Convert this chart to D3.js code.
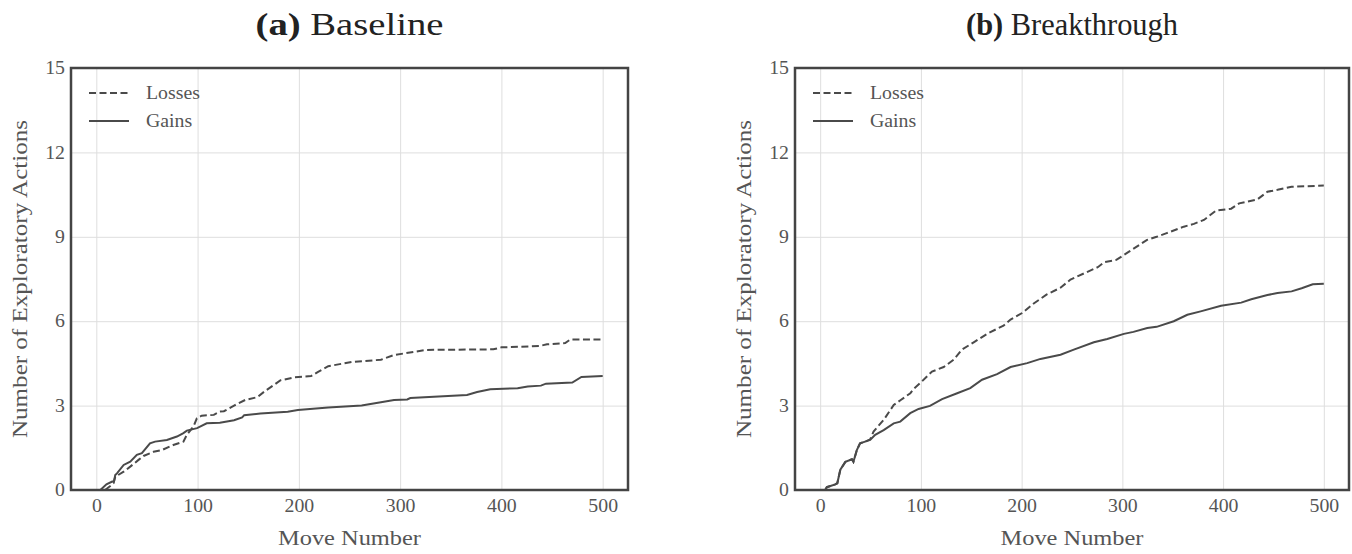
<!DOCTYPE html>
<html><head><meta charset="utf-8">
<script src="https://cdn.jsdelivr.net/npm/d3@7"></script>
<style>body{margin:0;background:#fff}svg{display:block}text{font-family:"Liberation Serif","Times New Roman",serif}</style>
</head><body>
<svg id="chart" width="1352" height="554"></svg>
<script>
const panelTitles = [["(a)", " Baseline"], ["(b)", " Breakthrough"]];
const seriesNames = ["Losses", "Gains"];
const xTicks = [0, 100, 200, 300, 400, 500];
const yTicks = [0, 3, 6, 9, 12, 15];
const xLabel = "Move Number";
const yLabel = "Number of Exploratory Actions";

const baselineLosses = [[8.6,0],[13.8,0.14],[17,0.24],[18.7,0.47],[27,0.65],[33.5,0.83],[41.7,1.07],[46.6,1.21],[56.5,1.36],[64.7,1.42],[76,1.6],[86,1.72],[89.4,1.96],[96,2.26],[99.3,2.55],[104,2.64],[116,2.67],[122,2.79],[126,2.8],[136,3.0],[147,3.2],[159,3.3],[166,3.5],[182,3.9],[195,4.0],[212,4.05],[219,4.2],[229,4.4],[252,4.55],[281,4.63],[294,4.8],[305,4.86],[326,4.98],[392,5.0],[400,5.07],[438,5.12],[445,5.18],[463,5.22],[468,5.35],[500,5.35]];
const baselineGains = [[4,0],[10,0.2],[15.7,0.3],[17.4,0.3],[18.7,0.53],[20.4,0.59],[27,0.89],[33.5,1.01],[40,1.25],[45,1.31],[53,1.66],[58,1.72],[69.7,1.78],[79.6,1.9],[86,2.02],[89.4,2.11],[99.5,2.2],[109,2.37],[122,2.39],[136,2.48],[144,2.58],[146,2.66],[162,2.72],[189,2.78],[199,2.84],[229,2.93],[262,3.0],[281,3.12],[294,3.2],[307,3.22],[310,3.27],[366,3.38],[376,3.48],[389,3.58],[416,3.62],[426,3.68],[439,3.71],[444,3.78],[470,3.82],[479,4.02],[500,4.05]];
const breakthroughLosses = [[5,0],[6.6,0.1],[15,0.2],[17,0.24],[20,0.72],[25,1.0],[31.5,1.09],[33,1.0],[36.4,1.42],[39.6,1.66],[44.6,1.72],[49.6,1.8],[53,2.08],[63,2.49],[73,3.02],[80,3.2],[89.5,3.44],[93,3.6],[101,3.86],[111,4.21],[122.6,4.37],[132.5,4.63],[140.8,4.99],[152.4,5.25],[167,5.58],[182,5.84],[189,6.06],[200.5,6.29],[212,6.63],[225,6.95],[238.6,7.19],[248.5,7.48],[262,7.7],[275.6,7.92],[282,8.1],[294,8.18],[306.6,8.47],[324.5,8.89],[334,9.0],[344,9.13],[361,9.36],[371,9.46],[381,9.6],[393,9.93],[408,10.0],[416,10.19],[434,10.33],[444,10.6],[454,10.67],[468,10.78],[500,10.82]];
const breakthroughGains = [[5,0],[6.6,0.1],[15,0.2],[17,0.24],[20,0.72],[25,1.0],[31.5,1.09],[33,1.0],[36.4,1.42],[39.6,1.66],[44.6,1.72],[49.6,1.78],[54.6,1.96],[63,2.13],[73,2.37],[79.5,2.43],[89.4,2.73],[97.7,2.88],[109,2.99],[121,3.23],[136,3.44],[149,3.62],[160.7,3.92],[175.6,4.12],[189,4.37],[205.5,4.51],[218.7,4.66],[238.6,4.81],[251.8,4.99],[271.7,5.25],[285,5.37],[301.5,5.55],[311,5.62],[324.7,5.76],[334,5.8],[351,6.0],[364.5,6.23],[377.7,6.35],[398,6.55],[418,6.66],[428,6.78],[444,6.93],[454,7.0],[468,7.06],[478,7.17],[489,7.31],[500,7.33]];

const panels = [
  {title: panelTitles[0], titleWidth: 188, series: [baselineLosses, baselineGains], left: 71, right: 628},
  {title: panelTitles[1], titleWidth: 212, series: [breakthroughLosses, breakthroughGains], left: 795, right: 1349}
];
const plotTop = 68, plotBottom = 490;
const lineColor = "#4a4a4a", textColor = "#555";
const dashes = ["7,3.5", null];

const svg = d3.select("#chart");

function stretch(sel, factor) {
  sel.each(function () {
    const w = this.getComputedTextLength();
    d3.select(this).attr("textLength", w * factor).attr("lengthAdjust", "spacingAndGlyphs");
  });
}

panels.forEach(p => {
  const x = d3.scaleLinear().domain([-25, 525]).range([p.left, p.right]);
  const y = d3.scaleLinear().domain([0, 15]).range([plotBottom, plotTop]);
  const g = svg.append("g");

  g.append("g").attr("transform", `translate(0,${plotBottom})`)
    .call(d3.axisBottom(x).tickValues(xTicks).tickSize(-(plotBottom - plotTop)).tickFormat(""))
    .call(a => a.select(".domain").remove())
    .call(a => a.selectAll("line").attr("stroke", "#dedede").attr("stroke-width", 1));
  g.append("g").attr("transform", `translate(${p.left},0)`)
    .call(d3.axisLeft(y).tickValues(yTicks).tickSize(-(p.right - p.left)).tickFormat(""))
    .call(a => a.select(".domain").remove())
    .call(a => a.selectAll("line").attr("stroke", "#dedede").attr("stroke-width", 1));

  g.append("g").attr("transform", `translate(0,${plotBottom})`)
    .call(d3.axisBottom(x).tickValues(xTicks).tickSize(0).tickPadding(9))
    .call(a => a.select(".domain").remove())
    .call(a => a.selectAll("text").attr("fill", textColor).attr("font-size", 18).attr("font-family", "Liberation Serif").call(stretch, 1.1));
  g.append("g").attr("transform", `translate(${p.left},0)`)
    .call(d3.axisLeft(y).tickValues(yTicks).tickSize(0).tickPadding(6))
    .call(a => a.select(".domain").remove())
    .call(a => a.selectAll("text").attr("fill", textColor).attr("font-size", 18).attr("font-family", "Liberation Serif").call(stretch, 1.1));

  const line = d3.line().x(d => x(d[0])).y(d => y(d[1]));
  p.series.forEach((s, i) => {
    g.append("path").datum(s).attr("d", line).attr("fill", "none")
      .attr("stroke", lineColor).attr("stroke-width", 2)
      .attr("stroke-dasharray", dashes[i]);
  });

  g.append("rect").attr("x", p.left).attr("y", plotTop).attr("width", p.right - p.left).attr("height", plotBottom - plotTop)
    .attr("fill", "none").attr("stroke", "#444").attr("stroke-width", 2.5);

  seriesNames.forEach((n, i) => {
    const ly = plotTop + 25 + i * 28;
    g.append("line").attr("x1", p.left + 18).attr("x2", p.left + 58).attr("y1", ly).attr("y2", ly)
      .attr("stroke", lineColor).attr("stroke-width", 2).attr("stroke-dasharray", dashes[i]);
    g.append("text").attr("x", p.left + 75).attr("y", ly).attr("dy", "0.35em")
      .attr("fill", textColor).attr("font-size", 18).text(n).call(stretch, 1.1);
  });

  const cx = (p.left + p.right) / 2;
  const t = g.append("text").attr("x", cx).attr("y", 35).attr("text-anchor", "middle")
    .attr("fill", "#222").attr("font-size", 32);
  t.append("tspan").attr("font-weight", "bold").text(p.title[0]);
  t.append("tspan").text(p.title[1]);
  t.attr("textLength", p.titleWidth).attr("lengthAdjust", "spacingAndGlyphs");

  g.append("text").attr("x", cx).attr("y", 545).attr("text-anchor", "middle")
    .attr("fill", textColor).attr("font-size", 22).text(xLabel)
    .attr("textLength", 143).attr("lengthAdjust", "spacingAndGlyphs");
  g.append("text").attr("transform", `translate(${p.left - 44},${(plotTop + plotBottom) / 2}) rotate(-90)`)
    .attr("text-anchor", "middle").attr("fill", textColor).attr("font-size", 22).text(yLabel)
    .attr("textLength", 318).attr("lengthAdjust", "spacingAndGlyphs");
});
</script>
</body></html>
